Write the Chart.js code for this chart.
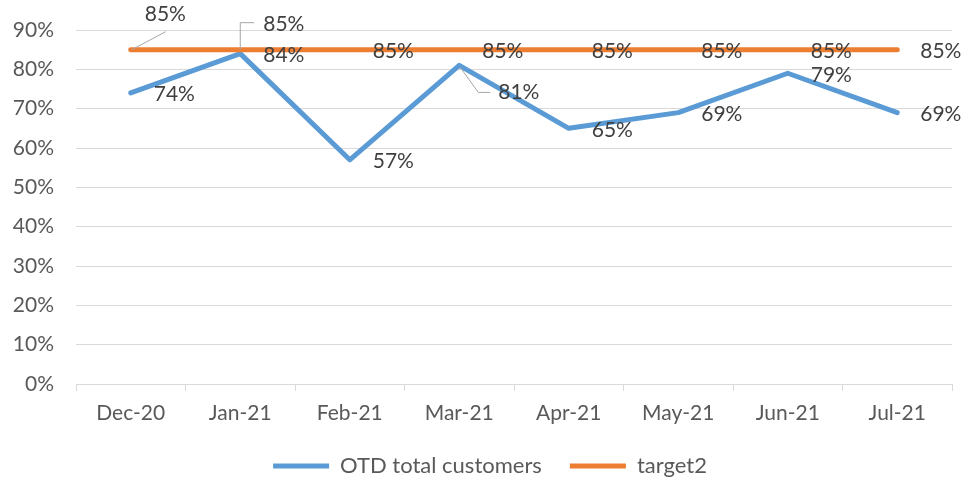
<!DOCTYPE html>
<html>
<head>
<meta charset="utf-8">
<script src="https://cdn.jsdelivr.net/npm/chart.js@4"></script>
<style>
  html, body { margin: 0; padding: 0; background: #fff; }
  #wrap { width: 964px; height: 482px; position: relative; }
</style>
</head>
<body>
<div id="wrap"><canvas id="line_chart"></canvas></div>
<script>
const months = ['Dec-20', 'Jan-21', 'Feb-21', 'Mar-21', 'Apr-21', 'May-21', 'Jun-21', 'Jul-21'];
const otd = [0.74, 0.84, 0.57, 0.81, 0.65, 0.69, 0.79, 0.69];
const target2 = [0.85, 0.85, 0.85, 0.85, 0.85, 0.85, 0.85, 0.85];
const yTicks = [0, 0.1, 0.2, 0.3, 0.4, 0.5, 0.6, 0.7, 0.8, 0.9];

const FONT = 'Lato';

// where each label sits relative to its point; leader = gray callout line
const labelPlace = {
  0: { 3: { dx: 39, dy: 27, leader: [[1, 2], [19, 27], [31, 27]] } },
  1: {
    0: { dx: 14, dy: -35, leader: [[1, 0], [35, -18]] },
    1: { dx: 23, dy: -25, leader: [[0, 0], [0, -27], [14, -27]] }
  }
};

const dataLabels = {
  id: 'dataLabels',
  afterLayout(chart) {
    // legend sits a little right of centre in the original
    chart.legend.left += 14;
    chart.legend.right += 14;
  },
  afterDatasetsDraw(chart) {
    const ctx = chart.ctx;
    ctx.save();
    ctx.font = '21px ' + FONT;
    ctx.fillStyle = '#404040';
    ctx.textAlign = 'left';
    ctx.textBaseline = 'middle';
    chart.data.datasets.forEach((ds, di) => {
      const meta = chart.getDatasetMeta(di);
      meta.data.forEach((pt, i) => {
        const p = (labelPlace[di] && labelPlace[di][i]) || { dx: 23, dy: 1.5 };
        if (p.leader) {
          ctx.beginPath();
          ctx.strokeStyle = '#A6A6A6';
          ctx.lineWidth = 1;
          p.leader.forEach((q, k) => {
            if (k === 0) ctx.moveTo(pt.x + q[0], pt.y + q[1]);
            else ctx.lineTo(pt.x + q[0], pt.y + q[1]);
          });
          ctx.stroke();
        }
        const txt = Math.round(ds.data[i] * 100) + '%';
        ctx.fillText(txt, pt.x + p.dx, pt.y + p.dy);
      });
    });
    ctx.restore();
  }
};

new Chart(document.querySelector('#line_chart'), {
  type: 'line',
  data: {
    labels: months,
    datasets: [
      {
        label: 'OTD total customers',
        data: otd,
        borderColor: '#5B9BD5',
        backgroundColor: '#5B9BD5',
        borderWidth: 5,
        borderCapStyle: 'round',
        borderJoinStyle: 'round',
        pointRadius: 0,
        tension: 0,
        order: 1
      },
      {
        label: 'target2',
        data: target2,
        borderColor: '#ED7D31',
        backgroundColor: '#ED7D31',
        borderWidth: 5,
        borderCapStyle: 'round',
        borderJoinStyle: 'round',
        pointRadius: 0,
        tension: 0,
        order: 0
      }
    ]
  },
  options: {
    responsive: true,
    maintainAspectRatio: false,
    animation: false,
    layout: { padding: { top: 30, right: 12, left: 0, bottom: -5 } },
    plugins: {
      tooltip: { enabled: false },
      legend: {
        position: 'bottom',
        labels: {
          usePointStyle: true,
          pointStyle: 'line',
          pointStyleWidth: 56,
          padding: 28,
          color: '#595959',
          font: { family: FONT, size: 22 },
          sort: (a, b) => a.datasetIndex - b.datasetIndex
        }
      }
    },
    scales: {
      x: {
        offset: true,
        grid: {
          offset: true,
          drawOnChartArea: false,
          drawTicks: true,
          tickLength: 7,
          color: '#D9D9D9'
        },
        border: { color: '#D9D9D9' },
        ticks: {
          color: '#595959',
          padding: 10,
          maxRotation: 0,
          font: { family: FONT, size: 21 }
        },
        afterFit(scale) { scale.height = 43; }
      },
      y: {
        min: 0,
        max: 0.9,
        afterBuildTicks(scale) { scale.ticks = yTicks.map(v => ({ value: v })); },
        grid: { color: '#D9D9D9', drawTicks: false },
        border: { display: false },
        ticks: {
          color: '#595959',
          padding: 22,
          font: { family: FONT, size: 21 },
          callback: v => Math.round(v * 100) + '%'
        },
        afterFit(scale) {
          scale.width = 76;
          scale.paddingTop = 12;
          scale.paddingBottom = 12;
        }
      }
    }
  },
  plugins: [dataLabels]
});
</script>
</body>
</html>
